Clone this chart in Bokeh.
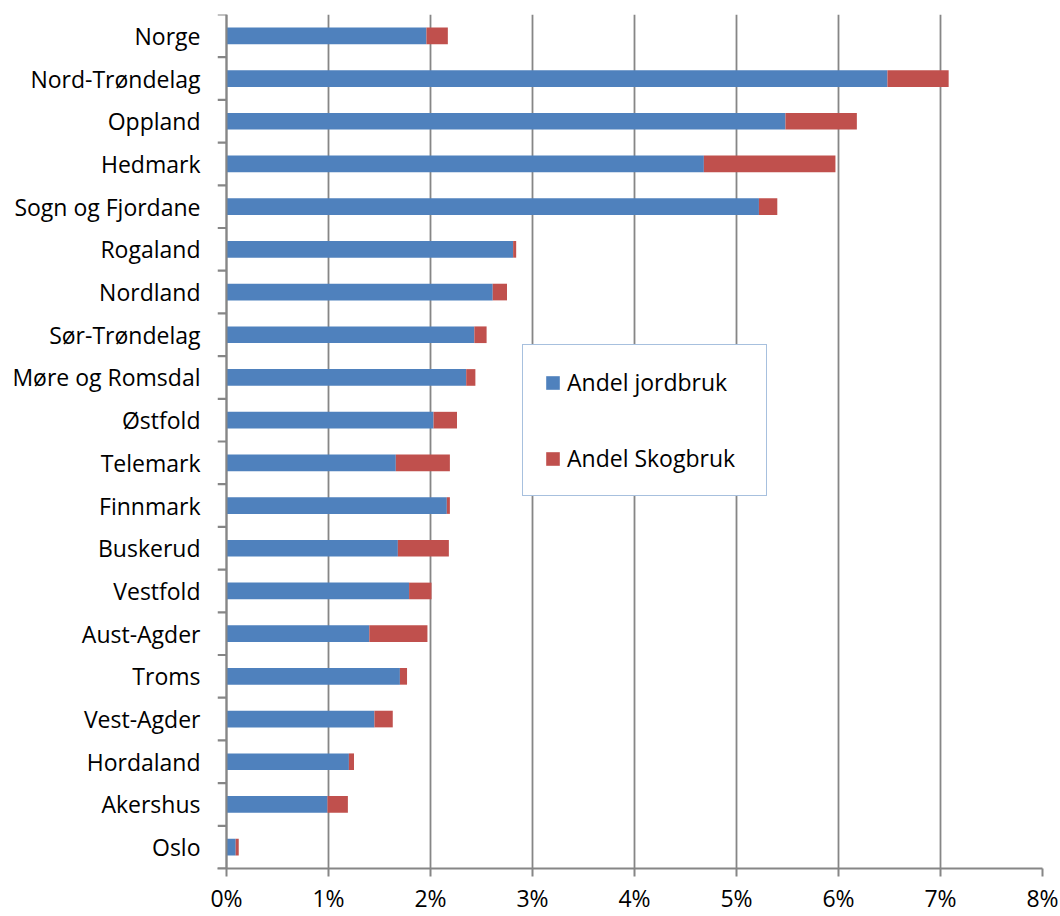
from bokeh.plotting import figure
from bokeh.models import (FixedTicker, PrintfTickFormatter, Legend, LegendItem, Range1d,
                          ColumnDataSource, LinearAxis, Span)
from bokeh.embed import file_html
from bokeh.resources import INLINE

regions = ["Norge", "Nord-Trøndelag", "Oppland", "Hedmark", "Sogn og Fjordane",
           "Rogaland", "Nordland", "Sør-Trøndelag", "Møre og Romsdal", "Østfold",
           "Telemark", "Finnmark", "Buskerud", "Vestfold", "Aust-Agder",
           "Troms", "Vest-Agder", "Hordaland", "Akershus", "Oslo"]
jordbruk = [1.96, 6.48, 5.48, 4.68, 5.22, 2.81, 2.61, 2.43, 2.35, 2.03,
            1.66, 2.16, 1.68, 1.79, 1.40, 1.70, 1.45, 1.20, 0.99, 0.09]
skogbruk = [0.21, 0.60, 0.70, 1.29, 0.18, 0.03, 0.14, 0.12, 0.09, 0.23,
            0.53, 0.03, 0.50, 0.22, 0.57, 0.07, 0.18, 0.05, 0.20, 0.03]
x_ticks = [0, 1, 2, 3, 4, 5, 6, 7, 8]

FONT = "Open Sans"
GRID = "#868686"
BLUE = "#4F81BD"
RED = "#C0504D"
TICK_LEN = 9 / 102.0   # about 9 px left of 0 % for category boundary tick marks

n = len(regions)
ypos = [n - 1 - i for i in range(n)]
bounds = [k - 0.5 for k in range(n + 1)]
total = [j + s for j, s in zip(jordbruk, skogbruk)]
src = ColumnDataSource(dict(y=ypos, jord=jordbruk, skog=skogbruk, total=total, name=regions))
tick_src = ColumnDataSource(dict(x0=[-TICK_LEN] * len(bounds), x1=[0.0] * len(bounds), y=bounds))

p = figure(width=1060, height=916, output_backend="svg", toolbar_location=None,
           x_range=Range1d(-TICK_LEN, 8), y_range=Range1d(-0.5, n - 0.5),
           y_axis_location=None,
           min_border_left=217, min_border_right=18, min_border_top=14, min_border_bottom=45)
p.outline_line_color = None
p.background_fill_color = "white"
p.border_fill_color = "white"

r1 = p.hbar(y="y", left=0, right="jord", height=0.39, source=src, fill_color=BLUE, line_color=None)
r2 = p.hbar(y="y", left="jord", right="total", height=0.39, source=src, fill_color=RED, line_color=None)

# category axis line and boundary tick marks
p.add_layout(Span(location=0, dimension="height", line_color=GRID, line_width=2))
p.segment(x0="x0", x1="x1", y0="y", y1="y", source=tick_src, line_color=GRID, line_width=2.2)

# x axis
p.xaxis.ticker = FixedTicker(ticks=x_ticks)
p.xaxis.formatter = PrintfTickFormatter(format="%d%%")
p.xaxis.major_label_text_font = FONT
p.xaxis.major_label_text_font_size = "23px"
p.xaxis.major_label_text_color = "black"
p.xaxis.major_tick_out = 8
p.xaxis.major_tick_in = 0
p.xaxis.minor_tick_out = 0
p.xaxis.minor_tick_in = 0
p.xaxis.axis_line_color = GRID
p.xaxis.axis_line_width = 2
p.xaxis.major_tick_line_color = GRID
p.xaxis.major_tick_line_width = 2
p.xaxis.major_label_standoff = 5

# category labels
label_axis = LinearAxis(ticker=FixedTicker(ticks=ypos),
                        major_label_overrides={y: name for y, name in zip(ypos, regions)},
                        major_label_text_font=FONT, major_label_text_font_size="23px",
                        major_label_text_color="black",
                        major_tick_out=0, major_tick_in=0,
                        minor_tick_out=0, minor_tick_in=0,
                        major_tick_line_color=None, minor_tick_line_color=None,
                        axis_line_color=None,
                        major_label_standoff=17)
p.add_layout(label_axis, "left")

p.xgrid.grid_line_color = GRID
p.xgrid.grid_line_width = 1.8
p.ygrid.grid_line_color = None

legend = Legend(items=[LegendItem(label="Andel jordbruk", renderers=[r1]),
                       LegendItem(label="Andel Skogbruk", renderers=[r2])],
                location=(305, 372), orientation="vertical",
                label_text_font=FONT, label_text_font_size="23px", label_text_color="black",
                glyph_width=17, glyph_height=17, label_standoff=6, label_width=178,
                padding=21, spacing=44, margin=0,
                border_line_color=BLUE, border_line_width=1.5,
                background_fill_color="white", background_fill_alpha=1.0)
p.add_layout(legend, "center")

open("out.html", "w").write(file_html(p, INLINE))
